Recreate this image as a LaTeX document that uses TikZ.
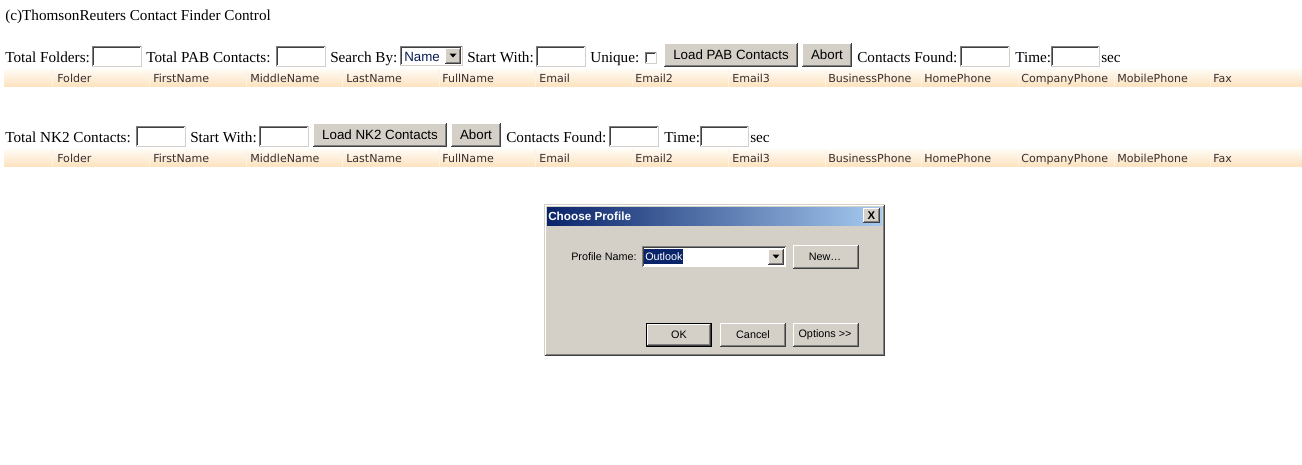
\documentclass[tikz,border=0pt]{standalone}
\usepackage{fontspec}
\setmainfont{Liberation Serif}
\newfontfamily\hdrfont{DejaVu Sans}
\newfontfamily\uifont{Liberation Sans}
\definecolor{btngray}{HTML}{D4D0C8}
\definecolor{btndark}{HTML}{404040}
\definecolor{btnmid}{HTML}{808080}
\definecolor{hdrtop}{HTML}{FFFBF5}
\definecolor{hdrbot}{HTML}{FDE3C0}
\definecolor{hdrtext}{HTML}{3A3030}
\definecolor{winblue}{HTML}{0A246A}
\definecolor{winlight}{HTML}{A6CAF0}
\tikzset{
  lbl/.style={anchor=base west, inner sep=0pt, font=\fontsize{11.4}{14}\selectfont},
  hdrlbl/.style={anchor=base west, inner sep=0pt, text=hdrtext, font=\hdrfont\fontsize{8.3}{9}\selectfont},
  btnlbl/.style={anchor=center, inner sep=0pt, font=\uifont\fontsize{10}{12}\selectfont},
  dlglbl/.style={anchor=base west, inner sep=0pt, font=\uifont\fontsize{8.1}{9}\selectfont},
  dlgbtn/.style={anchor=center, inner sep=0pt, font=\uifont\fontsize{8.1}{9}\selectfont},
}
\newcommand\insetbox[4]{%
  \fill[white] (#1,#2) rectangle (#3,#4);
  \draw[line width=0.75pt, btngray] (#1,#4) -- (#3,#4) -- (#3,#2);
  \draw[line width=0.75pt, btnmid] (#1,#4) -- (#1,#2) -- (#3,#2);
  \draw[line width=0.75pt, btndark] (#1+1,#4-1) -- (#1+1,#2+1) -- (#3-1,#2+1);
}
\newcommand\raisedbox[4]{%
  \fill[btngray] (#1,#2) rectangle (#3,#4);
  \draw[line width=0.75pt, white] (#1+0.5,#4-1) -- (#1+0.5,#2+0.5) -- (#3-1,#2+0.5);
  \draw[line width=0.75pt, btnmid] (#1+1,#4-1.5) -- (#3-1.5,#4-1.5) -- (#3-1.5,#2+1);
  \draw[line width=0.75pt, btndark] (#1,#4-0.5) -- (#3-0.5,#4-0.5) -- (#3-0.5,#2);
}
\newcommand\hdrrow[2]{% y top, suffix
  \shade[top color=hdrtop, bottom color=hdrbot] (4,#1) rectangle (1302,#1+17);
  \foreach \bx in {52,149,246,342,439,535,632,728,825,921,1018,1114,1210}
    \draw[line width=0.75pt, white!60!hdrbot] (\bx,#1) -- (\bx,#1+17);
  \node[hdrlbl] (c1#2) at (57,#1+13) {Folder};
  \node[hdrlbl] (c2#2) at (153,#1+13) {FirstName};
  \node[hdrlbl] (c3#2) at (250,#1+13) {MiddleName};
  \node[hdrlbl] (c4#2) at (346,#1+13) {LastName};
  \node[hdrlbl] (c5#2) at (442,#1+13) {FullName};
  \node[hdrlbl] (c6#2) at (539,#1+13) {Email};
  \node[hdrlbl] (c7#2) at (635,#1+13) {Email2};
  \node[hdrlbl] (c8#2) at (732,#1+13) {Email3};
  \node[hdrlbl] (c9#2) at (828,#1+13) {BusinessPhone};
  \node[hdrlbl] (c10#2) at (924,#1+13) {HomePhone};
  \node[hdrlbl] (c11#2) at (1021,#1+13) {CompanyPhone};
  \node[hdrlbl] (c12#2) at (1117,#1+13) {MobilePhone};
  \node[hdrlbl] (c13#2) at (1213,#1+13) {Fax};
}
\begin{document}
\begin{tikzpicture}[x=0.75pt,y=-0.75pt]
\useasboundingbox[fill=white] (0,0) rectangle (1302,464);

% title
\node[lbl] (title) at (5,20) {(c)ThomsonReuters Contact Finder Control};

% ---- row 1
\node[lbl] (tf) at (5,62) {Total Folders:};
\insetbox{92}{46}{141}{66}
\node[lbl] (tpab) at (146,62) {Total PAB Contacts:};
\insetbox{276}{46}{325}{66}
\node[lbl] (sby) at (330,62) {Search By:};
% select
\fill[white] (400,46) rectangle (462,65);
\draw[line width=0.75pt, btnmid] (400,65) -- (400,46) -- (462,46);
\draw[line width=0.75pt, btngray] (400,65) -- (462,65) -- (462,46);
\draw[line width=0.75pt, btndark] (401,64) -- (401,47) -- (461,47);
\node[anchor=base west, inner sep=0pt, text=winblue!80!black, font=\uifont\fontsize{10}{12}\selectfont] (selname) at (404,61) {Name};
\raisedbox{445}{47.5}{460.5}{63.5}
\fill[black] (449.5,53.5) -- (456.5,53.5) -- (453,57.5) -- cycle;
\node[lbl] (sw1) at (467,62) {Start With:};
\insetbox{536}{46}{585}{66}
\node[lbl] (uniq) at (590,62) {Unique:};
\fill[white] (645,52) rectangle (656,63);
\draw[line width=0.75pt, btnmid] (645,63) -- (645,52) -- (656,52);
\draw[line width=0.75pt, btngray] (645,63) -- (656,63) -- (656,52);
\draw[line width=0.75pt, btndark] (646,62) -- (646,53) -- (655,53);
\raisedbox{664}{43}{798}{67}
\node[btnlbl] (lpab) at (731,55) {Load PAB Contacts};
\raisedbox{802}{43}{852}{67}
\node[btnlbl] (ab1) at (827,55) {Abort};
\node[lbl] (cf1) at (857,62) {Contacts Found:};
\insetbox{960}{46}{1009}{66}
\node[lbl] (tm1) at (1015,62) {Time:};
\insetbox{1051}{46}{1099}{66}
\node[lbl] (sec1) at (1101,62) {sec};

\hdrrow{69}{a}

% ---- row 2
\node[lbl] (tnk) at (5,142) {Total NK2 Contacts:};
\insetbox{136}{126}{185}{146}
\node[lbl] (sw2) at (190,142) {Start With:};
\insetbox{259}{126}{308}{146}
\raisedbox{313}{123}{447}{147}
\node[btnlbl] (lnk) at (380,135) {Load NK2 Contacts};
\raisedbox{451}{123}{501}{147}
\node[btnlbl] (ab2) at (476,135) {Abort};
\node[lbl] (cf2) at (506,142) {Contacts Found:};
\insetbox{609}{126}{658}{146}
\node[lbl] (tm2) at (664,142) {Time:};
\insetbox{700}{126}{748}{146}
\node[lbl] (sec2) at (750,142) {sec};

\hdrrow{149}{b}

% ---- dialog
\fill[btngray] (544,204) rectangle (885,356);
\draw[line width=0.75pt, btngray] (544.5,355.5) -- (544.5,204.5) -- (884.5,204.5);
\draw[line width=0.75pt, white] (545.5,354.5) -- (545.5,205.5) -- (883.5,205.5);
\draw[line width=0.75pt, btnmid] (545.5,354.5) -- (883.5,354.5) -- (883.5,205.5);
\draw[line width=0.75pt, btndark] (544.5,355.5) -- (884.5,355.5) -- (884.5,204.5);
\shade[left color=winblue, right color=winlight] (547,207) rectangle (882,225);
\node[anchor=base west, inner sep=0pt, text=white, font=\uifont\bfseries\fontsize{8.8}{9}\selectfont] (dlgtitle) at (548,220) {Choose Profile};
\raisedbox{863}{208}{880}{223}
\node[anchor=center, inner sep=0pt, font=\uifont\bfseries\fontsize{8.5}{9}\selectfont] (closex) at (871.5,215.5) {X};

\node[dlglbl] (pname) at (571,260) {Profile Name:};
\insetbox{642}{246}{786}{267}
\fill[winblue] (644,249) rectangle (683,264);
\node[anchor=base west, inner sep=0pt, text=white, font=\uifont\fontsize{8.1}{9}\selectfont] (outlook) at (645,260) {Outlook};
\raisedbox{768}{248.5}{784}{264.5}
\fill[black] (772.5,254.5) -- (779.5,254.5) -- (776,258.5) -- cycle;
\raisedbox{793}{245}{859}{269}
\node[dlgbtn] (newb) at (825,257) {New\ldots};

% OK (default, black frame)
\raisedbox{647}{324}{711}{346}
\draw[line width=0.75pt, black] (646.5,323.5) rectangle (711.5,346.5);
\node[dlgbtn] (okb) at (679,335) {OK};
\raisedbox{720}{323}{786}{347}
\node[dlgbtn] (cancelb) at (753,335) {Cancel};
\raisedbox{793}{323}{859}{347}
\node[dlgbtn] (optb) at (825,335) {Options >>};
\end{tikzpicture}
\end{document}
